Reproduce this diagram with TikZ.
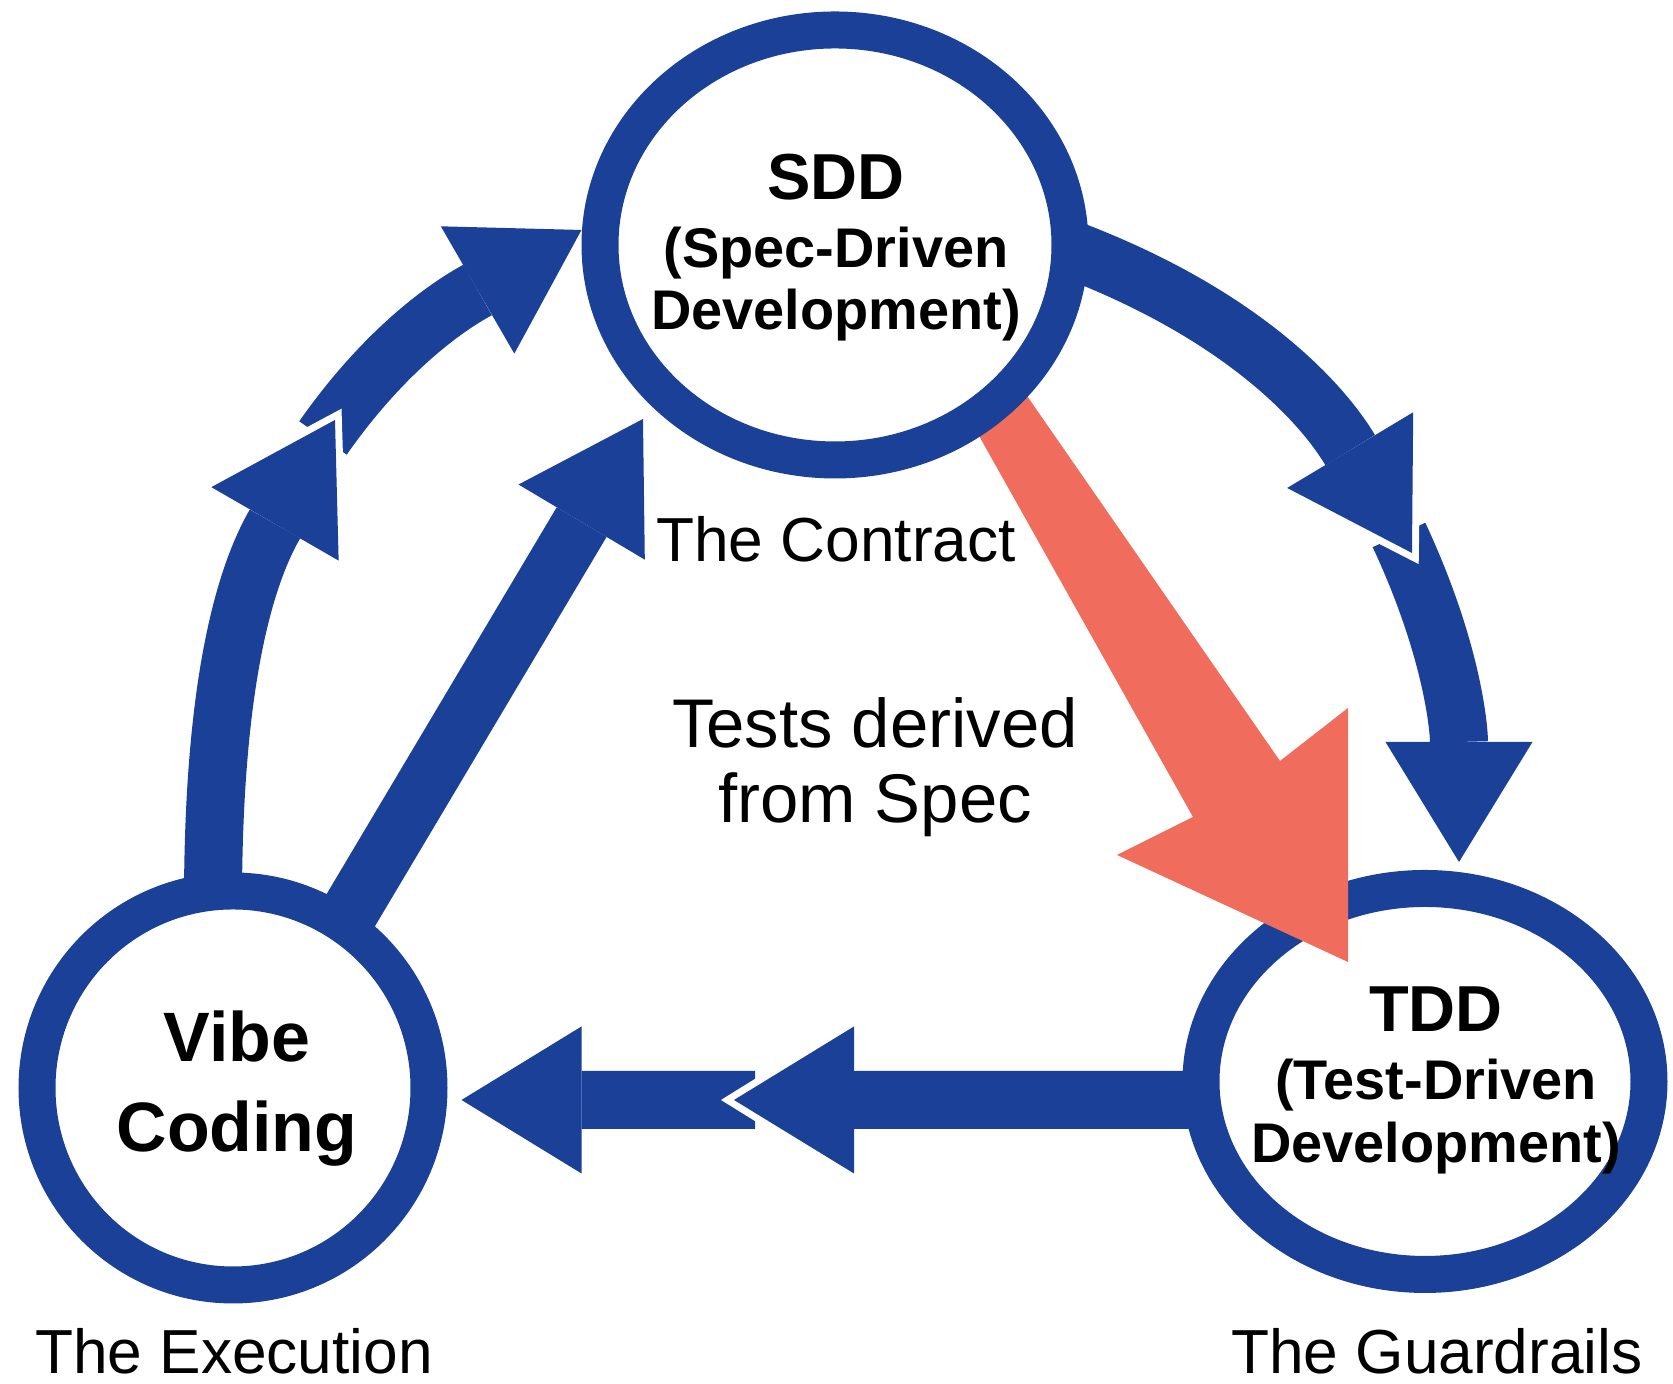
\documentclass[tikz,border=0pt]{standalone}
\usepackage{fontspec}
\setmainfont{Liberation Sans}
\usetikzlibrary{arrows.meta,shapes.geometric,backgrounds}
\definecolor{loopblue}{RGB}{27,64,152}
\definecolor{specred}{RGB}{240,108,92}

\begin{document}
\begin{tikzpicture}[
  ring/.style={ellipse,draw=loopblue,fill=white,line width=0.37cm,inner sep=0pt},
  flow/.style={draw=loopblue,line width=0.58cm,-{Triangle[length=1.2cm,width=1.47cm,line width=0pt]}},
  halo/.style={draw=white,line width=0.74cm,shorten >=-0.13cm,-{Triangle[length=1.45cm,width=1.8cm,line width=0pt]}},
  title/.style={anchor=base,font=\bfseries\fontsize{18.5}{20}\selectfont},
  sub/.style={anchor=base,font=\bfseries\fontsize{15.9}{18}\selectfont},
  vibetxt/.style={anchor=base,font=\bfseries\fontsize{19.9}{22}\selectfont},
  note/.style={anchor=base,inner sep=0pt,font=\fontsize{17.7}{20}\selectfont},
  bignote/.style={anchor=base,font=\fontsize{19.6}{22}\selectfont}]
  \useasboundingbox (0,0) rectangle (16.73,13.84);

  % the three practices
  \node[ring,minimum width=3.92cm,minimum height=3.94cm] (vibe) at (2.33,2.96) {};
  \node[ring,minimum width=4.48cm,minimum height=3.86cm] (tdd) at (14.25,3.025) {};

  % tests derived from the spec
  \coordinate (redtip) at (13.48,4.22);
  \fill[specred] (9.69,9.66) -- (11.93,5.67) -- (11.17,5.29) -- (redtip)
    -- (13.48,6.76) -- (12.80,6.23) -- (10.16,10.04) -- cycle;

  \node[ring,minimum width=4.70cm,minimum height=4.30cm] (sdd) at (8.35,11.39) {};

  \node[title] (sddtitle) at (8.36,11.84) {SDD};
  \node[sub] (sddsub1) at (8.36,11.16) {(Spec-Driven};
  \node[sub] (sddsub2) at (8.36,10.54) {Development)};
  \node[title] (tddtitle) at (14.36,3.52) {TDD};
  \node[sub] (tddsub1) at (14.36,2.84) {(Test-Driven};
  \node[sub] (tddsub2) at (14.36,2.21) {Development)};
  \node[vibetxt] (vibe1) at (2.37,3.22) {Vibe};
  \node[vibetxt] (vibe2) at (2.37,2.32) {Coding};

  \node[note] (contract) at (8.36,8.22) {The Contract};
  \node[bignote] (derived1) at (8.75,6.36) {Tests derived};
  \node[bignote] (derived2) at (8.75,5.61) {from Spec};
  \node[note] (execution) at (2.34,0.1) {The Execution};
  \node[note] (guardrails) at (14.37,0.1) {The Guardrails};

  % the loop, behind the circles
  \begin{scope}[on background layer]
    \coordinate (l1tip) at (3.35,9.64);
    \coordinate (l2tail) at (3.23,9.46);
    \coordinate (r1tip) at (14.12,8.31);
    \coordinate (r2tail) at (13.99,8.49);
    \coordinate (b1tip) at (7.34,2.84);
    \coordinate (b2tail) at (7.55,2.84);
    \coordinate (straighttip) at (6.43,9.65);

    \draw[flow] (l2tail) to[out=55,in=210] ([yshift=1.5mm]sdd.west);
    \draw[flow] (r2tail) to[out=-65,in=90] ([xshift=3.4mm,yshift=0.8mm]tdd.north);
    \draw[flow] (b2tail) -- ([xshift=1.4mm,yshift=-1.2mm]vibe.east);

    \draw[halo] ([xshift=-2mm,yshift=-3mm]vibe.north) to[out=90,in=240] (l1tip);
    \draw[flow] ([xshift=-2mm,yshift=-3mm]vibe.north) to[out=90,in=240] (l1tip);
    \draw[halo] ([xshift=-3mm]sdd.east) to[out=-20,in=121] (r1tip);
    \draw[flow] ([xshift=-3mm]sdd.east) to[out=-20,in=121] (r1tip);
    \draw[halo] ([xshift=3mm,yshift=-1.85mm]tdd.west) -- (b1tip);
    \draw[flow] ([xshift=3mm,yshift=-1.85mm]tdd.west) -- (b1tip);

    \draw[flow] ([xshift=1.2mm]vibe.center) -- (straighttip);
  \end{scope}
\end{tikzpicture}
\end{document}
